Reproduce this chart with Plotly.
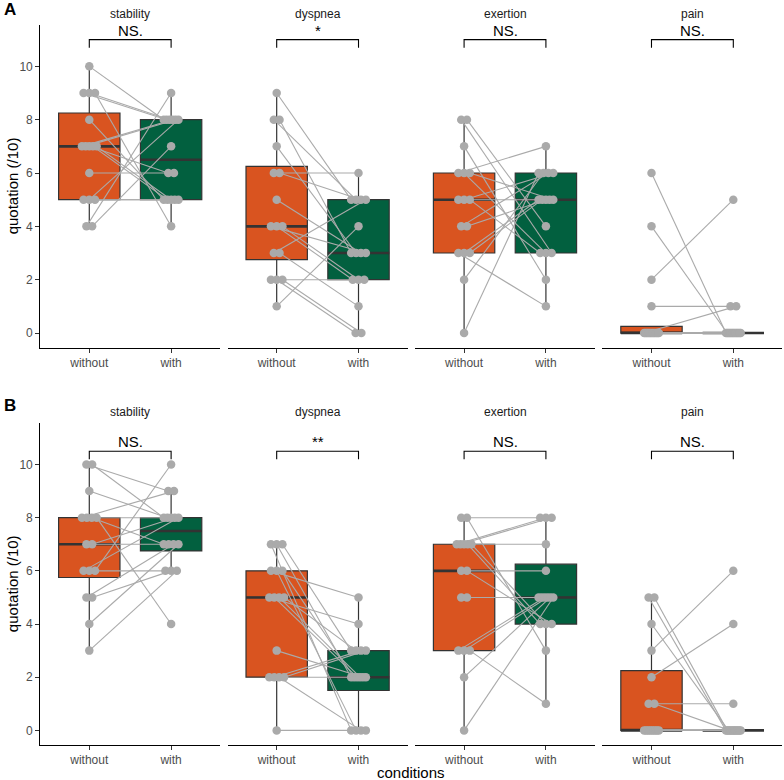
import numpy as np
import plotly.graph_objects as go

# ---------------- data ----------------
facets = ["stability", "dyspnea", "exertion", "pain"]
conditions = ["without", "with"]
y_ticks = [0, 2, 4, 6, 8, 10]

# Panel A (paired subjects: value without, value with)
A_stability_without = [10, 9, 9, 9, 8, 7, 7, 7, 7, 7, 6, 5, 5, 5, 4, 4]
A_stability_with    = [8, 8, 8, 4, 5, 8, 8, 6, 5, 5, 6, 5, 8, 5, 9, 7]
A_dyspnea_without   = [9, 8, 8, 7, 6, 6, 5, 4, 4, 4, 3, 3, 2, 2, 2, 1]
A_dyspnea_with      = [5, 5, 3, 3, 6, 5, 3, 3, 2, 2, 5, 1, 2, 0, 0, 4]
A_exertion_without  = [0, 2, 3, 3, 3, 4, 4, 5, 5, 5, 6, 6, 6, 7, 8, 8]
A_exertion_with     = [6, 6, 1, 5, 5, 6, 5, 5, 6, 3, 7, 3, 5, 2, 3, 4]
A_pain_without      = [6, 4, 2, 1, 0, 0, 0, 0, 0, 0, 0, 0, 0, 0, 0, 0]
A_pain_with         = [0, 0, 5, 1, 1, 0, 0, 0, 0, 0, 0, 0, 0, 0, 0, 0]

# Panel B
B_stability_without = [10, 10, 9, 8, 8, 8, 8, 7, 7, 6, 6, 6, 5, 5, 4, 3]
B_stability_with    = [9, 8, 8, 9, 8, 7, 4, 7, 8, 8, 6, 10, 7, 6, 7, 6]
B_dyspnea_without   = [7, 7, 7, 6, 6, 6, 5, 5, 5, 5, 3, 2, 2, 2, 2, 0]
B_dyspnea_with      = [0, 2, 3, 5, 0, 2, 4, 2, 2, 3, 2, 2, 3, 0, 3, 0]
B_exertion_without  = [8, 8, 7, 7, 7, 7, 7, 6, 6, 5, 5, 3, 3, 3, 2, 0]
B_exertion_with     = [8, 3, 8, 8, 7, 4, 4, 6, 4, 5, 5, 5, 5, 1, 5, 5]
B_pain_without      = [5, 5, 4, 3, 2, 1, 1, 0, 0, 0, 0, 0, 0, 0, 0, 0]
B_pain_with         = [0, 0, 0, 6, 4, 1, 0, 0, 0, 0, 0, 0, 0, 0, 0, 0]

signif_A = ["NS.", "*", "NS.", "NS."]
signif_B = ["NS.", "**", "NS.", "NS."]
signif_level_A = 11.0
signif_level_B = 10.5

panels = {
    "A": [(A_stability_without, A_stability_with), (A_dyspnea_without, A_dyspnea_with),
          (A_exertion_without, A_exertion_with), (A_pain_without, A_pain_with)],
    "B": [(B_stability_without, B_stability_with), (B_dyspnea_without, B_dyspnea_with),
          (B_exertion_without, B_exertion_with), (B_pain_without, B_pain_with)],
}
signif = {"A": signif_A, "B": signif_B}
signif_level = {"A": signif_level_A, "B": signif_level_B}

# ---------------- style ----------------
W, H = 784, 780
FONT = "Liberation Sans, Arial, Helvetica, sans-serif"
FILL = ["#D95420", "#02603F"]
BOX_LINE = "#333333"
GREY = "#AAAAAA"
X0, FW, GAP = 40.2, 180.0, 7.4
PANEL_Y = {"A": (25.0, 347.7), "B": (423.3, 745.0)}
YR = [-0.55, 11.55]
BOX_W = 0.75
TIP = 0.3


def box_stats(v):
    v = np.asarray(v, dtype=float)
    q1, med, q3 = np.percentile(v, [25, 50, 75])
    iqr = q3 - q1
    lo = v[v >= q1 - 1.5 * iqr].min()
    hi = v[v <= q3 + 1.5 * iqr].max()
    return q1, med, q3, lo, hi


def spread(values):
    """horizontal dodge for identical values (like a light jitter)"""
    values = np.asarray(values)
    off = np.zeros(len(values))
    for val in np.unique(values):
        idx = np.where(values == val)[0]
        k = len(idx)
        if k > 1:
            half = min(0.09, 0.035 * (k - 1))
            off[idx] = np.linspace(-half, half, k)
    return off


fig = go.Figure()
layout = dict(
    width=W, height=H, margin=dict(l=0, r=0, t=0, b=0),
    paper_bgcolor="white", plot_bgcolor="white", showlegend=False,
    font=dict(family=FONT, size=12, color="#000000"),
)
annotations = []

for p_i, pname in enumerate(["A", "B"]):
    top, bot = PANEL_Y[pname]
    ydom = [1 - bot / H, 1 - top / H]
    for f_i, fname in enumerate(facets):
        n = p_i * 4 + f_i + 1
        xs = "" if n == 1 else str(n)
        xa, ya = "x" + xs, "y" + xs
        left = X0 + f_i * (FW + GAP)
        xdom = [left / W, (left + FW) / W]

        layout["xaxis" + xs] = dict(
            domain=xdom, anchor=ya, range=[0.4, 2.6],
            tickvals=[1, 2], ticktext=conditions,
            showline=True, linecolor="#000000", linewidth=1,
            ticks="outside", ticklen=4, tickcolor="#333333", tickwidth=1,
            tickfont=dict(family=FONT, size=12, color="#4D4D4D"),
            showgrid=False, zeroline=False, fixedrange=True,
        )
        yax = dict(domain=ydom, anchor=xa, range=YR, showgrid=False,
                   zeroline=False, fixedrange=True)
        if f_i == 0:
            yax.update(showline=True, linecolor="#000000", linewidth=1,
                       ticks="outside", ticklen=4, tickcolor="#333333",
                       tickvals=y_ticks,
                       tickfont=dict(family=FONT, size=12, color="#4D4D4D"))
        else:
            yax.update(visible=False)
        layout["yaxis" + xs] = yax

        w_vals, h_vals = panels[pname][f_i]
        groups = [w_vals, h_vals]

        # boxes
        for c_i, vals in enumerate(groups):
            q1, med, q3, lo, hi = box_stats(vals)
            pos = c_i + 1
            fig.add_trace(go.Box(
                x=[pos], q1=[q1], median=[med], q3=[q3],
                lowerfence=[lo], upperfence=[hi],
                width=BOX_W, fillcolor=FILL[c_i],
                line=dict(color=BOX_LINE, width=1.2),
                whiskerwidth=0, boxpoints=False,
                xaxis=xa, yaxis=ya, hoverinfo="skip",
            ))
            fig.add_trace(go.Scatter(
                x=[pos - BOX_W / 2, pos + BOX_W / 2], y=[med, med],
                mode="lines", line=dict(color=BOX_LINE, width=2.6),
                xaxis=xa, yaxis=ya, hoverinfo="skip",
            ))

        # paired lines + points
        jw = 1 + spread(w_vals)
        jh = 2 + spread(h_vals)
        lx, ly = [], []
        for i in range(len(w_vals)):
            lx += [jw[i], jh[i], None]
            ly += [w_vals[i], h_vals[i], None]
        fig.add_trace(go.Scatter(
            x=lx, y=ly, mode="lines", line=dict(color=GREY, width=1.1),
            xaxis=xa, yaxis=ya, hoverinfo="skip",
        ))
        fig.add_trace(go.Scatter(
            x=list(jw) + list(jh), y=list(w_vals) + list(h_vals),
            mode="markers", marker=dict(color=GREY, size=8.5, line=dict(width=0)),
            xaxis=xa, yaxis=ya, hoverinfo="skip",
        ))

        # significance bracket
        lvl = signif_level[pname]
        fig.add_trace(go.Scatter(
            x=[1, 1, 2, 2], y=[lvl - TIP, lvl, lvl, lvl - TIP],
            mode="lines", line=dict(color="#000000", width=1.1),
            xaxis=xa, yaxis=ya, hoverinfo="skip", cliponaxis=False,
        ))
        annotations.append(dict(
            x=1.5, y=lvl, xref=xa, yref=ya, text=signif[pname][f_i],
            showarrow=False, yanchor="bottom", yshift=-1,
            font=dict(family=FONT, size=15, color="#000000"),
        ))

        # strip title
        strip_y = 14 if pname == "A" else 412
        annotations.append(dict(
            x=(xdom[0] + xdom[1]) / 2, y=1 - strip_y / H, xref="paper", yref="paper",
            text=fname, showarrow=False, yanchor="middle", xanchor="center",
            font=dict(family=FONT, size=12, color="#1A1A1A"),
        ))

    # y-axis title
    annotations.append(dict(
        x=12 / W, y=1 - ((top + bot) / 2) / H, xref="paper", yref="paper",
        text="quotation (/10)", textangle=-90, showarrow=False,
        xanchor="center", yanchor="middle",
        font=dict(family=FONT, size=15, color="#000000"),
    ))
    # panel tag
    tag_y = 10 if pname == "A" else 405
    annotations.append(dict(
        x=2 / W, y=1 - tag_y / H, xref="paper", yref="paper", text="<b>%s</b>" % pname,
        showarrow=False, xanchor="left", yanchor="middle",
        font=dict(family=FONT, size=17, color="#000000"),
    ))

# x-axis title
annotations.append(dict(
    x=(X0 + (X0 + 4 * FW + 3 * GAP)) / 2 / W, y=1 - 772 / H, xref="paper", yref="paper",
    text="conditions", showarrow=False, xanchor="center", yanchor="middle",
    font=dict(family=FONT, size=15, color="#000000"),
))

layout["annotations"] = annotations
fig.update_layout(**layout)
fig.write_html("out.html")
